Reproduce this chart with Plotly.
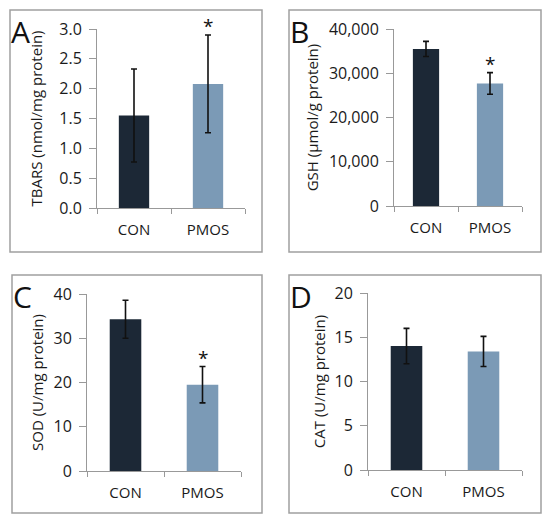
import plotly.graph_objects as go
from plotly.subplots import make_subplots

# Data (mean and error bar half-width)
groups = ["CON", "PMOS"]
tbars = [1.55, 2.08]
tbars_err = [0.78, 0.82]
gsh = [35500, 27700]
gsh_err = [1700, 2450]
sod = [34.3, 19.5]
sod_err = [4.3, 4.1]
cat = [14.0, 13.4]
cat_err = [2.0, 1.7]

panel_letters = ["A", "B", "C", "D"]
y_titles = ["TBARS (nmol/mg protein)", "GSH (µmol/g protein)",
            "SOD (U/mg protein)", "CAT (U/mg protein)"]
y_ranges = [[0, 3.0], [0, 40000], [0, 40], [0, 20]]
y_dticks = [0.5, 10000, 10, 5]
signif = [True, True, True, False]   # asterisk above PMOS

bar_colors = ["#1c2836", "#7b9ab6"]
font = "Open Sans"
W, H = 550, 525
OFF = 8  # page body margin shifts the figure, so pull positions back

values = [tbars, gsh, sod, cat]
errors = [tbars_err, gsh_err, sod_err, cat_err]


def px(x):
    return (x - OFF) / W


def py(y):
    return 1 - (y - OFF) / H


fig = make_subplots(rows=2, cols=2)

# plot areas in pixels: (left, right, top, bottom)
areas = [(97, 245, 29, 208), (394, 522, 29, 206),
         (87, 241, 294, 471), (368, 522, 293, 470)]
# grey boxes around each panel
boxes = [(10, 262, 10, 252), (289, 541, 10, 252),
         (12, 262, 275, 513), (289, 541, 275, 513)]
title_gap = [13, 6, 6, 5]

for i in range(4):
    r, c = i // 2 + 1, i % 2 + 1
    fig.add_trace(go.Bar(
        x=groups, y=values[i], width=0.41,
        marker=dict(color=bar_colors, line_width=0),
        error_y=dict(type="data", array=errors[i], color="#111111",
                     thickness=1.6, width=3),
        showlegend=False), row=r, col=c)

    left, right, top, bottom = areas[i]
    n = "" if i == 0 else str(i + 1)
    fig.layout["xaxis" + n].update(
        domain=[px(left), px(right)], showline=True, linecolor="#999999",
        linewidth=1, ticks="outside", tickson="boundaries", ticklen=5,
        tickcolor="#999999", tickfont=dict(size=15, color="#1a1a1a"),
        ticklabelstandoff=8, showgrid=False, automargin=False)
    fig.layout["yaxis" + n].update(
        domain=[py(bottom), py(top)], range=y_ranges[i],
        dtick=y_dticks[i], tickformat=",.1f" if i == 0 else ",",
        showline=True, linecolor="#999999", linewidth=1, ticks="outside",
        ticklen=7, tickcolor="#999999", showgrid=False, zeroline=False,
        ticklabelstandoff=4, automargin=False,
        tickfont=dict(size=16, color="#1a1a1a"),
        title=dict(text=y_titles[i], font=dict(size=15, color="#1a1a1a"),
                   standoff=title_gap[i]))

    x0, x1, y0, y1 = boxes[i]
    fig.add_shape(type="rect", xref="paper", yref="paper",
                  x0=px(x0), x1=px(x1), y0=py(y1), y1=py(y0),
                  line=dict(color="#a0a0a0", width=1.5))
    fig.add_annotation(text=panel_letters[i], xref="paper", yref="paper",
                       x=px(x0 - 1), y=py(y0 - 1), xanchor="left",
                       yanchor="top", showarrow=False,
                       font=dict(size=30, color="#111111", family=font))
    if signif[i]:
        fig.add_annotation(text="*", x="PMOS", y=values[i][1] + errors[i][1],
                           xref="x" + n, yref="y" + n, yanchor="bottom",
                           yshift=-6, showarrow=False,
                           font=dict(size=19, color="#111111"))

fig.update_layout(width=W, height=H, margin=dict(l=0, r=0, t=0, b=0),
                  plot_bgcolor="white", paper_bgcolor="white",
                  font=dict(family=font, color="#1a1a1a"))

fig.write_html("out.html")
